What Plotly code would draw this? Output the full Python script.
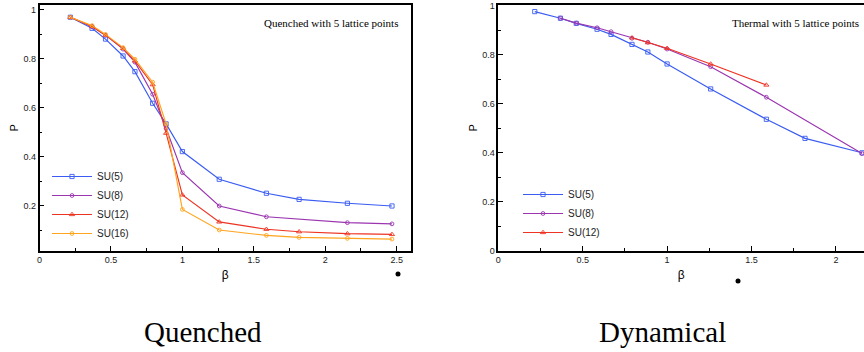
import plotly.graph_objects as go

# ---------------- data ----------------
beta_q = [0.216, 0.368, 0.462, 0.585, 0.668, 0.792, 0.886, 1.0, 1.258, 1.588, 1.817, 2.155, 2.467]
q_su5 = [0.970, 0.925, 0.881, 0.812, 0.748, 0.619, 0.535, 0.422, 0.309, 0.252, 0.227, 0.211, 0.200]
beta_q8 = [0.216, 0.368, 0.462, 0.585, 0.668, 0.792, 0.886, 1.0, 1.258, 1.588, 2.155, 2.467]
q_su8 = [0.970, 0.932, 0.897, 0.840, 0.787, 0.656, 0.517, 0.336, 0.200, 0.156, 0.132, 0.127]
q_su12 = [0.970, 0.932, 0.897, 0.843, 0.792, 0.695, 0.497, 0.245, 0.135, 0.105, 0.095, 0.087, 0.084]
q_su16 = [0.970, 0.936, 0.900, 0.846, 0.799, 0.705, 0.535, 0.186, 0.102, 0.080, 0.072, 0.068, 0.065]

beta_d5 = [0.216, 0.368, 0.462, 0.585, 0.668, 0.792, 0.886, 1.0, 1.258, 1.588, 1.817, 2.155]
d_su5 = [0.977, 0.950, 0.929, 0.905, 0.884, 0.843, 0.812, 0.763, 0.661, 0.537, 0.459, 0.400]
beta_d8 = [0.368, 0.462, 0.585, 0.668, 0.792, 0.886, 1.0, 1.258, 1.588, 2.155]
d_su8 = [0.950, 0.930, 0.911, 0.895, 0.868, 0.852, 0.824, 0.752, 0.627, 0.397]
beta_d12 = [0.792, 0.886, 1.0, 1.258, 1.588]
d_su12 = [0.870, 0.850, 0.827, 0.763, 0.677]

x_ticks = [0, 0.5, 1, 1.5, 2, 2.5]
x_tick_labels = ["0", "0.5", "1", "1.5", "2", "2.5"]
yq_ticks = [0.2, 0.4, 0.6, 0.8, 1.0]
yq_tick_labels = ["0.2", "0.4", "0.6", "0.8", "1"]
yd_ticks = [0, 0.2, 0.4, 0.6, 0.8, 1.0]
yd_tick_labels = ["0", "0.2", "0.4", "0.6", "0.8", "1"]

C5, C8, C12, C16 = "#3a5cf2", "#9b35b0", "#ee3322", "#ffa41f"

fig = go.Figure()

def add(x, y, name, color, symbol, xa, ya, legend, size=4):
    fig.add_trace(go.Scatter(
        x=x, y=y, name=name, mode="lines+markers",
        line=dict(color=color, width=1.15),
        marker=dict(symbol=symbol, size=size, color=color, line=dict(color=color, width=0.9)),
        xaxis=xa, yaxis=ya, legend=legend,
    ))

add(beta_q, q_su5, "SU(5)", C5, "square-open", "x", "y", "legend", 4.2)
add(beta_q8, q_su8, "SU(8)", C8, "circle-open", "x", "y", "legend", 3.8)
add(beta_q, q_su12, "SU(12)", C12, "triangle-up-open", "x", "y", "legend", 4.5)
add(beta_q, q_su16, "SU(16)", C16, "circle-open", "x", "y", "legend", 3.8)

add(beta_d5, d_su5, "SU(5)", C5, "square-open", "x2", "y2", "legend2", 4.2)
add(beta_d8, d_su8, "SU(8)", C8, "circle-open", "x2", "y2", "legend2", 3.8)
add(beta_d12, d_su12, "SU(12)", C12, "triangle-up-open", "x2", "y2", "legend2", 4.5)

tickfont = dict(family="Liberation Sans, Arial, sans-serif", size=9, color="#222")
axis_common = dict(
    showgrid=False, zeroline=False, showline=True, linecolor="black", linewidth=1.5,
    mirror=True, ticks="inside", ticklen=5, tickcolor="black", tickwidth=1,
    tickfont=tickfont, automargin=False,
)
minor = dict(ticks="inside", ticklen=3, tickcolor="black", tickwidth=1)

W, H = 864, 352
dom_y = [(H - 250.7) / H, (H - 5) / H]

fig.update_layout(
    width=W, height=H,
    margin=dict(l=0, r=0, t=0, b=0, pad=0),
    paper_bgcolor="white", plot_bgcolor="white",
    font=dict(family="Liberation Sans, Arial, sans-serif", color="black"),
    xaxis=dict(axis_common, domain=[39.5 / W, 410.7 / W], range=[0, 2.598],
               tickvals=x_ticks, ticktext=x_tick_labels, minor=dict(minor, dtick=0.25),
               title=dict(text="β", font=dict(size=12), standoff=6), anchor="y"),
    yaxis=dict(axis_common, domain=dom_y, range=[0.0176, 1.02],
               tickvals=yq_ticks, ticktext=yq_tick_labels, minor=dict(minor, dtick=0.1),
               title=dict(text="P", font=dict(size=11), standoff=3), anchor="x"),
    xaxis2=dict(axis_common, domain=[498.3 / W, 1.0], range=[0, 2.1665],
                tickvals=x_ticks, ticktext=x_tick_labels, minor=dict(minor, dtick=0.25),
                title=dict(text="β", font=dict(size=12), standoff=6), anchor="y2"),
    yaxis2=dict(axis_common, domain=dom_y, range=[0, 1.004],
                tickvals=yd_ticks, ticktext=yd_tick_labels, minor=dict(minor, dtick=0.1),
                title=dict(text="P", font=dict(size=11), standoff=2), anchor="x2"),
    legend=dict(x=47 / W, y=(H - 162) / H, xanchor="left", yanchor="top",
                bgcolor="rgba(0,0,0,0)", font=dict(size=10, color="#222"),
                tracegroupgap=0, itemwidth=40),
    legend2=dict(x=518 / W, y=(H - 180) / H, xanchor="left", yanchor="top",
                 bgcolor="rgba(0,0,0,0)", font=dict(size=10, color="#222"),
                 tracegroupgap=0, itemwidth=40),
    showlegend=True,
)

serif = "Liberation Serif, Times New Roman, serif"
ann = dict(xref="paper", yref="paper", showarrow=False, xanchor="center", yanchor="middle")
fig.add_annotation(x=331 / W, y=(H - 23) / H, text="Quenched with 5 lattice points",
                   font=dict(family=serif, size=11, color="black"), **ann)
fig.add_annotation(x=795 / W, y=(H - 23) / H, text="Thermal with 5 lattice points",
                   font=dict(family=serif, size=11, color="black"), **ann)
fig.add_annotation(x=203 / W, y=(H - 332) / H, text="Quenched",
                   font=dict(family=serif, size=29, color="black"), **ann)
fig.add_annotation(x=662 / W, y=(H - 332) / H, text="Dynamical",
                   font=dict(family=serif, size=29, color="black"), **ann)

# small stray dots below the axes
for cx, cy in [(398, 274), (738, 281)]:
    fig.add_shape(type="circle", xref="paper", yref="paper",
                  x0=(cx - 2.5) / W, x1=(cx + 2.5) / W,
                  y0=(H - cy - 2.5) / H, y1=(H - cy + 2.5) / H,
                  fillcolor="black", line=dict(color="black", width=0))

fig.write_html("out.html", config={"displayModeBar": False},
               post_script="document.body.style.margin='0';document.body.style.overflow='hidden';")
